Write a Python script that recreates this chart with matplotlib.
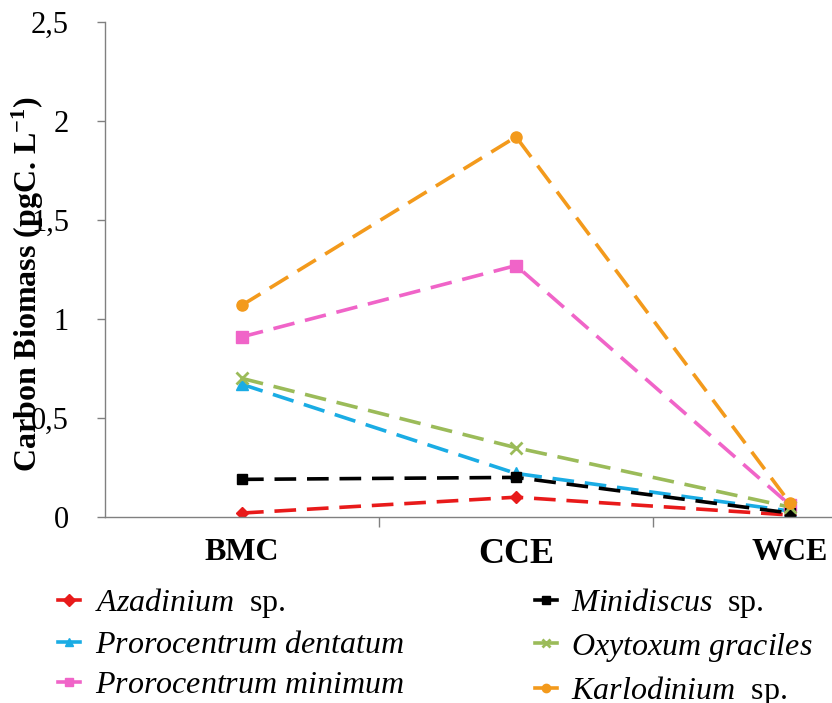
import matplotlib.pyplot as plt
from matplotlib.ticker import FixedLocator

plt.rcParams['font.family'] = ['Liberation Serif', 'DejaVu Serif']
plt.rcParams['mathtext.fontset'] = 'custom'
plt.rcParams['mathtext.rm'] = 'Liberation Serif'
plt.rcParams['mathtext.it'] = 'Liberation Serif:italic'
plt.rcParams['mathtext.bf'] = 'Liberation Serif:bold'

# Data
sites = ['BMC', 'CCE', 'WCE']
azadinium = [0.02, 0.10, 0.01]
minidiscus = [0.19, 0.20, 0.02]
p_dentatum = [0.67, 0.22, 0.03]
oxytoxum = [0.70, 0.35, 0.05]
p_minimum = [0.91, 1.27, 0.06]
karlodinium = [1.07, 1.92, 0.07]

series = [
    (r'$\mathit{Azadinium}\ $ sp.', azadinium, '#E81A1A', 'D', 6),
    (r'$\mathit{Prorocentrum\ dentatum}$', p_dentatum, '#1AACE4', '^', 9),
    (r'$\mathit{Prorocentrum\ minimum}$', p_minimum, '#F064C8', 's', 8),
    (r'$\mathit{Minidiscus}\ $ sp.', minidiscus, '#000000', 's', 7),
    (r'$\mathit{Oxytoxum\ graciles}$', oxytoxum, '#9BBB59', 'x', 9),
    (r'$\mathit{Karlodinium}\ $ sp.', karlodinium, '#F39A1C', 'o', 8),
]

fig = plt.figure(figsize=(8.32, 7.03), dpi=100)
ax = fig.add_axes([105 / 832, 1 - 517 / 703, 1 - 105 / 832, (517 - 22) / 703])

x = range(len(sites))
for label, vals, color, marker, ms in series:
    ax.plot(x, vals, color=color, linestyle=(0, (6, 3)), linewidth=2.6,
            marker=marker, markersize=ms, markeredgewidth=2 if marker == 'x' else 1,
            label=label)

ax.set_xlim(-0.5, 2.153)
ax.set_ylim(0, 2.5)
ax.set_yticks([0, 0.5, 1, 1.5, 2, 2.5])
ax.set_yticklabels(['0', '0,5', '1', '1,5', '2', '2,5'], fontsize=22)
ax.set_xticks([0, 1, 2])
ax.set_xticklabels(sites, fontweight='bold')
for t, fs in zip(ax.get_xticklabels(), [23, 26, 23]):
    t.set_fontsize(fs)
ax.tick_params(axis='x', length=0, pad=15)
ax.xaxis.set_minor_locator(FixedLocator([0.5, 1.5]))
ax.tick_params(axis='x', which='minor', length=7, color='#808080', width=1)
ax.tick_params(axis='y', length=6, color='#808080', width=1, pad=20)

for side in ['top', 'right']:
    ax.spines[side].set_visible(False)
for side in ['left', 'bottom']:
    ax.spines[side].set_color('#808080')
    ax.spines[side].set_linewidth(1)

ax.set_ylabel(r'Carbon Biomass (pgC. L$^{\mathbf{-1}}$)', fontsize=23,
              fontweight='bold')
ax.yaxis.set_label_coords(-(105 - 46) / 727, 0.47)

handles, labels = ax.get_legend_handles_labels()
leg = fig.legend(handles, labels, ncol=2, frameon=False, fontsize=23,
                 loc='upper left', bbox_to_anchor=(58 / 832, 1 - 586 / 703),
                 borderaxespad=0, borderpad=0,
                 handlelength=0.7, handletextpad=0.45, columnspacing=4.1,
                 labelspacing=0.33, numpoints=1)
for line in leg.get_lines():
    line.set_linestyle('-')
    line.set_markersize(6)

fig.savefig('out.png', dpi=100)
